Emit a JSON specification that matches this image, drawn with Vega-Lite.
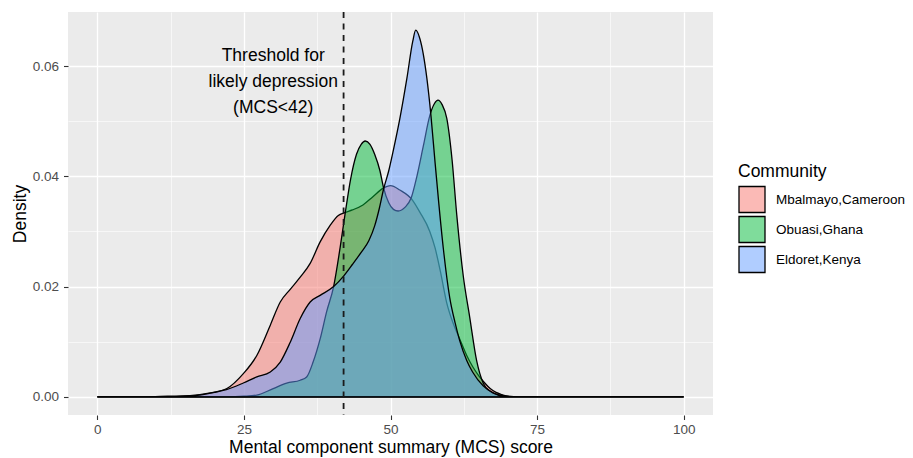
{
  "$schema": "https://vega.github.io/schema/vega-lite/v6.json",
  "width": 645,
  "height": 403,
  "autosize": {"type": "none"},
  "padding": {"left": 68, "top": 12, "right": 200, "bottom": 43},
  "background": "white",
  "config": {
    "font": "Liberation Sans",
    "view": {"fill": "#EBEBEB", "stroke": null}
  },
  "datasets": {
    "dens": [
      {"community": "Mbalmayo,Cameroon", "mcs": 0, "density": 0},
      {"community": "Mbalmayo,Cameroon", "mcs": 8, "density": 0},
      {"community": "Mbalmayo,Cameroon", "mcs": 12, "density": 0.0001},
      {"community": "Mbalmayo,Cameroon", "mcs": 15.8, "density": 0.0002},
      {"community": "Mbalmayo,Cameroon", "mcs": 19.3, "density": 0.0007},
      {"community": "Mbalmayo,Cameroon", "mcs": 22.1, "density": 0.0015},
      {"community": "Mbalmayo,Cameroon", "mcs": 24.9, "density": 0.0042},
      {"community": "Mbalmayo,Cameroon", "mcs": 27.2, "density": 0.0075},
      {"community": "Mbalmayo,Cameroon", "mcs": 29.5, "density": 0.013},
      {"community": "Mbalmayo,Cameroon", "mcs": 31.2, "density": 0.0172},
      {"community": "Mbalmayo,Cameroon", "mcs": 32.9, "density": 0.0195},
      {"community": "Mbalmayo,Cameroon", "mcs": 34.6, "density": 0.0217},
      {"community": "Mbalmayo,Cameroon", "mcs": 36.3, "density": 0.0242},
      {"community": "Mbalmayo,Cameroon", "mcs": 38, "density": 0.0281},
      {"community": "Mbalmayo,Cameroon", "mcs": 39.7, "density": 0.0311},
      {"community": "Mbalmayo,Cameroon", "mcs": 41.1, "density": 0.0329},
      {"community": "Mbalmayo,Cameroon", "mcs": 42.2, "density": 0.0334},
      {"community": "Mbalmayo,Cameroon", "mcs": 43.5, "density": 0.0339},
      {"community": "Mbalmayo,Cameroon", "mcs": 45.3, "density": 0.0348},
      {"community": "Mbalmayo,Cameroon", "mcs": 47, "density": 0.0363},
      {"community": "Mbalmayo,Cameroon", "mcs": 48.7, "density": 0.0378},
      {"community": "Mbalmayo,Cameroon", "mcs": 50, "density": 0.0383},
      {"community": "Mbalmayo,Cameroon", "mcs": 51.6, "density": 0.0375},
      {"community": "Mbalmayo,Cameroon", "mcs": 53.8, "density": 0.0356},
      {"community": "Mbalmayo,Cameroon", "mcs": 55, "density": 0.0335},
      {"community": "Mbalmayo,Cameroon", "mcs": 56.7, "density": 0.03},
      {"community": "Mbalmayo,Cameroon", "mcs": 57.6, "density": 0.027},
      {"community": "Mbalmayo,Cameroon", "mcs": 58.5, "density": 0.0228},
      {"community": "Mbalmayo,Cameroon", "mcs": 59.6, "density": 0.017},
      {"community": "Mbalmayo,Cameroon", "mcs": 60.7, "density": 0.0133},
      {"community": "Mbalmayo,Cameroon", "mcs": 61.8, "density": 0.0105},
      {"community": "Mbalmayo,Cameroon", "mcs": 63, "density": 0.0075},
      {"community": "Mbalmayo,Cameroon", "mcs": 64, "density": 0.0055},
      {"community": "Mbalmayo,Cameroon", "mcs": 65, "density": 0.0039},
      {"community": "Mbalmayo,Cameroon", "mcs": 66, "density": 0.0026},
      {"community": "Mbalmayo,Cameroon", "mcs": 67, "density": 0.0015},
      {"community": "Mbalmayo,Cameroon", "mcs": 68, "density": 0.0008},
      {"community": "Mbalmayo,Cameroon", "mcs": 69, "density": 0.0004},
      {"community": "Mbalmayo,Cameroon", "mcs": 70, "density": 0.0001},
      {"community": "Mbalmayo,Cameroon", "mcs": 72, "density": 0},
      {"community": "Mbalmayo,Cameroon", "mcs": 100, "density": 0},
      {"community": "Obuasi,Ghana", "mcs": 0, "density": 0},
      {"community": "Obuasi,Ghana", "mcs": 22, "density": 0},
      {"community": "Obuasi,Ghana", "mcs": 25, "density": 0.0001},
      {"community": "Obuasi,Ghana", "mcs": 27.2, "density": 0.0003},
      {"community": "Obuasi,Ghana", "mcs": 30, "density": 0.0015},
      {"community": "Obuasi,Ghana", "mcs": 32.3, "density": 0.0025},
      {"community": "Obuasi,Ghana", "mcs": 34.6, "density": 0.003},
      {"community": "Obuasi,Ghana", "mcs": 35.7, "density": 0.0036},
      {"community": "Obuasi,Ghana", "mcs": 36.8, "density": 0.0063},
      {"community": "Obuasi,Ghana", "mcs": 38, "density": 0.0105},
      {"community": "Obuasi,Ghana", "mcs": 39.1, "density": 0.0154},
      {"community": "Obuasi,Ghana", "mcs": 40.3, "density": 0.02},
      {"community": "Obuasi,Ghana", "mcs": 41.4, "density": 0.027},
      {"community": "Obuasi,Ghana", "mcs": 42.3, "density": 0.0335},
      {"community": "Obuasi,Ghana", "mcs": 43.2, "density": 0.0395},
      {"community": "Obuasi,Ghana", "mcs": 44.2, "density": 0.044},
      {"community": "Obuasi,Ghana", "mcs": 45, "density": 0.0458},
      {"community": "Obuasi,Ghana", "mcs": 45.7, "density": 0.0464},
      {"community": "Obuasi,Ghana", "mcs": 46.5, "density": 0.0458},
      {"community": "Obuasi,Ghana", "mcs": 47.3, "density": 0.044},
      {"community": "Obuasi,Ghana", "mcs": 48.2, "density": 0.041},
      {"community": "Obuasi,Ghana", "mcs": 48.8, "density": 0.038},
      {"community": "Obuasi,Ghana", "mcs": 49.7, "density": 0.0352},
      {"community": "Obuasi,Ghana", "mcs": 50.5, "density": 0.034},
      {"community": "Obuasi,Ghana", "mcs": 51.3, "density": 0.0337},
      {"community": "Obuasi,Ghana", "mcs": 52.5, "density": 0.0344},
      {"community": "Obuasi,Ghana", "mcs": 53.5, "density": 0.036},
      {"community": "Obuasi,Ghana", "mcs": 54.5, "density": 0.04},
      {"community": "Obuasi,Ghana", "mcs": 55.6, "density": 0.0455},
      {"community": "Obuasi,Ghana", "mcs": 56.7, "density": 0.051},
      {"community": "Obuasi,Ghana", "mcs": 57.5, "density": 0.0532},
      {"community": "Obuasi,Ghana", "mcs": 58.1, "density": 0.0538},
      {"community": "Obuasi,Ghana", "mcs": 58.8, "density": 0.053},
      {"community": "Obuasi,Ghana", "mcs": 59.6, "density": 0.0505},
      {"community": "Obuasi,Ghana", "mcs": 60.5, "density": 0.043},
      {"community": "Obuasi,Ghana", "mcs": 61.3, "density": 0.033},
      {"community": "Obuasi,Ghana", "mcs": 62.4, "density": 0.022},
      {"community": "Obuasi,Ghana", "mcs": 63.5, "density": 0.0145},
      {"community": "Obuasi,Ghana", "mcs": 64.7, "density": 0.0065},
      {"community": "Obuasi,Ghana", "mcs": 65.8, "density": 0.0025},
      {"community": "Obuasi,Ghana", "mcs": 67, "density": 0.001},
      {"community": "Obuasi,Ghana", "mcs": 69, "density": 0.0002},
      {"community": "Obuasi,Ghana", "mcs": 71, "density": 0},
      {"community": "Obuasi,Ghana", "mcs": 100, "density": 0},
      {"community": "Eldoret,Kenya", "mcs": 0, "density": 0},
      {"community": "Eldoret,Kenya", "mcs": 12, "density": 0},
      {"community": "Eldoret,Kenya", "mcs": 15, "density": 0.0001},
      {"community": "Eldoret,Kenya", "mcs": 18, "density": 0.0004},
      {"community": "Eldoret,Kenya", "mcs": 20, "density": 0.0008},
      {"community": "Eldoret,Kenya", "mcs": 22, "density": 0.0013},
      {"community": "Eldoret,Kenya", "mcs": 24.9, "density": 0.0025},
      {"community": "Eldoret,Kenya", "mcs": 27.2, "density": 0.0036},
      {"community": "Eldoret,Kenya", "mcs": 29.5, "density": 0.0045},
      {"community": "Eldoret,Kenya", "mcs": 31.2, "density": 0.0063},
      {"community": "Eldoret,Kenya", "mcs": 32.9, "density": 0.0099},
      {"community": "Eldoret,Kenya", "mcs": 34.6, "density": 0.0142},
      {"community": "Eldoret,Kenya", "mcs": 36.3, "density": 0.0172},
      {"community": "Eldoret,Kenya", "mcs": 38, "density": 0.0184},
      {"community": "Eldoret,Kenya", "mcs": 40.3, "density": 0.02},
      {"community": "Eldoret,Kenya", "mcs": 42, "density": 0.0219},
      {"community": "Eldoret,Kenya", "mcs": 43.5, "density": 0.024},
      {"community": "Eldoret,Kenya", "mcs": 45, "density": 0.0262},
      {"community": "Eldoret,Kenya", "mcs": 46.3, "density": 0.0283},
      {"community": "Eldoret,Kenya", "mcs": 47.3, "density": 0.031},
      {"community": "Eldoret,Kenya", "mcs": 48.1, "density": 0.0342},
      {"community": "Eldoret,Kenya", "mcs": 48.8, "density": 0.0376},
      {"community": "Eldoret,Kenya", "mcs": 49.7, "density": 0.041},
      {"community": "Eldoret,Kenya", "mcs": 50.5, "density": 0.0448},
      {"community": "Eldoret,Kenya", "mcs": 51.6, "density": 0.0505},
      {"community": "Eldoret,Kenya", "mcs": 52.8, "density": 0.0578},
      {"community": "Eldoret,Kenya", "mcs": 53.8, "density": 0.0645},
      {"community": "Eldoret,Kenya", "mcs": 54.3, "density": 0.0665},
      {"community": "Eldoret,Kenya", "mcs": 55, "density": 0.065},
      {"community": "Eldoret,Kenya", "mcs": 56.2, "density": 0.0578},
      {"community": "Eldoret,Kenya", "mcs": 56.9, "density": 0.051},
      {"community": "Eldoret,Kenya", "mcs": 57.6, "density": 0.0425},
      {"community": "Eldoret,Kenya", "mcs": 58.2, "density": 0.0355},
      {"community": "Eldoret,Kenya", "mcs": 59, "density": 0.027},
      {"community": "Eldoret,Kenya", "mcs": 60.1, "density": 0.018},
      {"community": "Eldoret,Kenya", "mcs": 61, "density": 0.0135},
      {"community": "Eldoret,Kenya", "mcs": 61.8, "density": 0.0102},
      {"community": "Eldoret,Kenya", "mcs": 63, "density": 0.0066},
      {"community": "Eldoret,Kenya", "mcs": 64, "density": 0.0045},
      {"community": "Eldoret,Kenya", "mcs": 65.8, "density": 0.002},
      {"community": "Eldoret,Kenya", "mcs": 67.5, "density": 0.0007},
      {"community": "Eldoret,Kenya", "mcs": 69.2, "density": 0.0001},
      {"community": "Eldoret,Kenya", "mcs": 71, "density": 0},
      {"community": "Eldoret,Kenya", "mcs": 100, "density": 0}
    ],
    "thr": [{"mcs": 42}],
    "note": [{"mcs": 30, "density": 0.0618, "label": "Threshold for\nlikely depression\n(MCS<42)"}]
  },
  "layer": [
    {
      "data": {"name": "dens"},
      "transform": [{"filter": "datum.community === 'Mbalmayo,Cameroon'"}],
      "mark": {"type": "area", "interpolate": "monotone", "fillOpacity": 0.5, "stroke": "black", "strokeWidth": 1.3, "strokeOpacity": 1},
      "encoding": {
        "x": {"field": "mcs", "type": "quantitative", "scale": {"domain": [-5, 105], "nice": false, "zero": false},
          "axis": {"values": [0, 25, 50, 75, 100], "grid": true, "gridColor": "white", "gridWidth": 1.3, "domain": false, "tickColor": "#333333", "tickSize": 4.5, "tickWidth": 1.1, "labelColor": "#4D4D4D", "labelFontSize": 13.5, "labelPadding": 3, "labelFlush": false, "title": "Mental component summary (MCS) score", "titleFontSize": 17.5, "titleFontWeight": "normal", "titleColor": "black", "titlePadding": 2}},
        "y": {"field": "density", "type": "quantitative", "stack": null, "scale": {"domain": [-0.0033, 0.0698], "nice": false, "zero": false},
          "axis": {"values": [0, 0.02, 0.04, 0.06], "format": ".2f", "grid": true, "gridColor": "white", "gridWidth": 1.3, "domain": false, "tickColor": "#333333", "tickSize": 4.5, "tickWidth": 1.1, "labelColor": "#4D4D4D", "labelFontSize": 13.5, "labelPadding": 5, "labelFlush": false, "title": "Density", "titleFontSize": 17.5, "titleFontWeight": "normal", "titleColor": "black", "titlePadding": 3}},
        "color": {"field": "community", "type": "nominal",
          "scale": {"domain": ["Mbalmayo,Cameroon", "Obuasi,Ghana", "Eldoret,Kenya"], "range": ["#F8766D", "#00BA38", "#619CFF"]},
          "legend": {"title": "Community", "orient": "none", "legendX": 670, "legendY": 151, "symbolType": "square", "symbolSize": 676, "symbolStrokeColor": "black", "symbolStrokeWidth": 1.3, "titleFontSize": 17.5, "titleFontWeight": "normal", "titleColor": "black", "titlePadding": 5, "labelFontSize": 13.5, "labelColor": "black", "labelOffset": 10, "rowPadding": -6,
            "encode": {"symbols": {"update": {"fillOpacity": {"value": 0.5}, "strokeOpacity": {"value": 1}, "stroke": {"value": "black"}, "opacity": {"value": 1}}}}}}
      }
    },
    {
      "data": {"name": "dens"},
      "transform": [{"filter": "datum.community === 'Obuasi,Ghana'"}],
      "mark": {"type": "area", "interpolate": "monotone", "fillOpacity": 0.5, "stroke": "black", "strokeWidth": 1.3, "strokeOpacity": 1},
      "encoding": {
        "x": {"field": "mcs", "type": "quantitative", "axis": null},
        "y": {"field": "density", "type": "quantitative", "stack": null, "axis": null},
        "color": {"field": "community", "type": "nominal"}
      }
    },
    {
      "data": {"name": "dens"},
      "transform": [{"filter": "datum.community === 'Eldoret,Kenya'"}],
      "mark": {"type": "area", "interpolate": "monotone", "fillOpacity": 0.5, "stroke": "black", "strokeWidth": 1.3, "strokeOpacity": 1},
      "encoding": {
        "x": {"field": "mcs", "type": "quantitative", "axis": null},
        "y": {"field": "density", "type": "quantitative", "stack": null, "axis": null},
        "color": {"field": "community", "type": "nominal"}
      }
    },
    {
      "data": {"name": "thr"},
      "mark": {"type": "rule", "strokeDash": [6, 5.5], "strokeWidth": 1.8, "color": "#1A1A1A"},
      "encoding": {
        "x": {"field": "mcs", "type": "quantitative", "axis": null}
      }
    },
    {
      "data": {"name": "note"},
      "mark": {"type": "text", "lineBreak": "\n", "fontSize": 17.5, "align": "center", "baseline": "middle", "lineHeight": 26, "color": "black"},
      "encoding": {
        "x": {"field": "mcs", "type": "quantitative",
          "axis": {"orient": "top", "values": [12.5, 37.5, 62.5, 87.5], "grid": true, "gridColor": "white", "gridWidth": 0.6, "labels": false, "ticks": false, "domain": false, "title": null}},
        "y": {"field": "density", "type": "quantitative",
          "axis": {"orient": "right", "values": [0.01, 0.03, 0.05], "grid": true, "gridColor": "white", "gridWidth": 0.6, "labels": false, "ticks": false, "domain": false, "title": null}},
        "text": {"field": "label"}
      }
    }
  ],
  "resolve": {"axis": {"x": "independent", "y": "independent"}}
}
